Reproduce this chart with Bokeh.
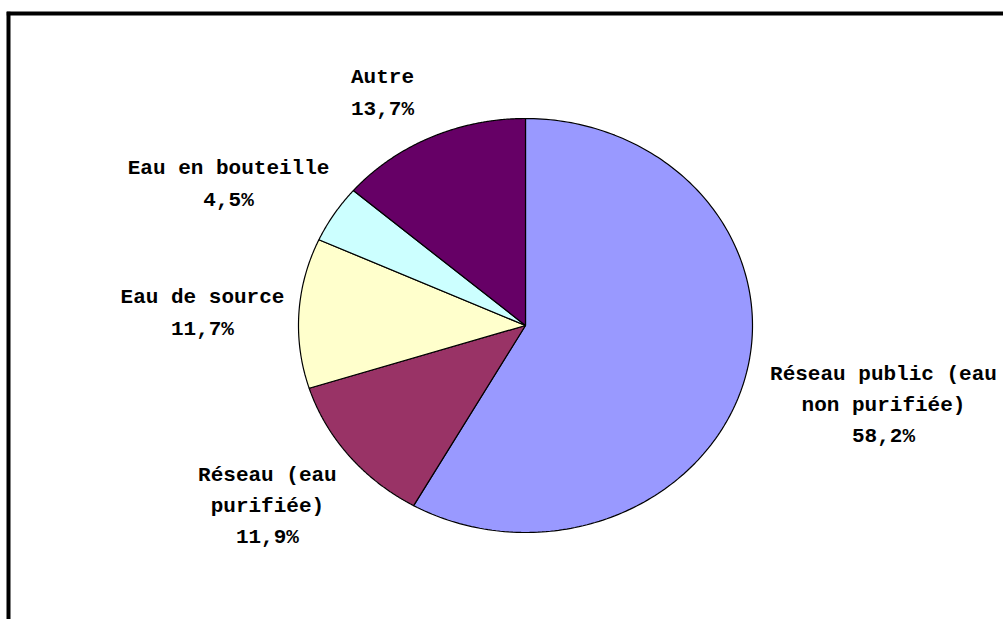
import numpy as np
from bokeh.plotting import figure
from bokeh.models import ColumnDataSource, Range1d, Span
from bokeh.core.properties import value
from bokeh.embed import file_html
from bokeh.resources import INLINE

# ---- data ----
categories = ["Réseau public (eau\nnon purifiée)", "Réseau (eau\npurifiée)",
              "Eau de source", "Eau en bouteille", "Autre"]
shares = [58.2, 11.9, 11.7, 4.5, 13.7]
colors = ["#9999FF", "#993366", "#FFFFCC", "#CCFFFF", "#660066"]

# ---- layout (label block centres, in pie-radius units) ----
label_x = [1.577, -1.137, -1.423, -1.308, -0.630]
label_y = [-0.386, -0.874, 0.058, 0.681, 1.121]

W, H = 1003, 619
xr = Range1d(-2.2863, 2.1057)
yr = Range1d(-1.4203, 1.5169)
p = figure(width=W, height=H, output_backend="svg", toolbar_location=None,
           x_range=xr, y_range=yr,
           min_border_left=6, min_border_right=0, min_border_top=11, min_border_bottom=0)
p.axis.visible = False
p.grid.visible = False
p.outline_line_color = None
p.background_fill_color = "white"
p.border_fill_color = "white"

# chart frame: only left and top edges visible in the window (half clipped by frame)
p.add_layout(Span(location=xr.start, dimension="height", line_color="black", line_width=8))
p.add_layout(Span(location=yr.end, dimension="width", line_color="black", line_width=8))

total = sum(shares)
fr = np.cumsum([0] + shares) / total
xs, ys = [], []
for i in range(len(shares)):
    a0 = np.pi / 2 - 2 * np.pi * fr[i]
    a1 = np.pi / 2 - 2 * np.pi * fr[i + 1]
    t = np.linspace(a0, a1, 200)
    xs.append(np.concatenate([[0], np.cos(t), [0]]).tolist())
    ys.append(np.concatenate([[0], np.sin(t), [0]]).tolist())

src = ColumnDataSource(dict(xs=xs, ys=ys, color=colors))
p.patches("xs", "ys", fill_color="color", line_color="black", line_width=1.2, source=src)

labels = [f"{c}\n{v:.1f}".replace(".", ",") + "%" for c, v in zip(categories, shares)]
lsrc = ColumnDataSource(dict(x=label_x, y=label_y, text=labels))
p.text("x", "y", text="text", source=lsrc, text_align="center", text_baseline="middle",
       text_font=value("Liberation Mono"), text_font_style="bold",
       text_font_size="21px", text_line_height=1.36, text_color="black")

open("out.html", "w").write(file_html(p, INLINE))
